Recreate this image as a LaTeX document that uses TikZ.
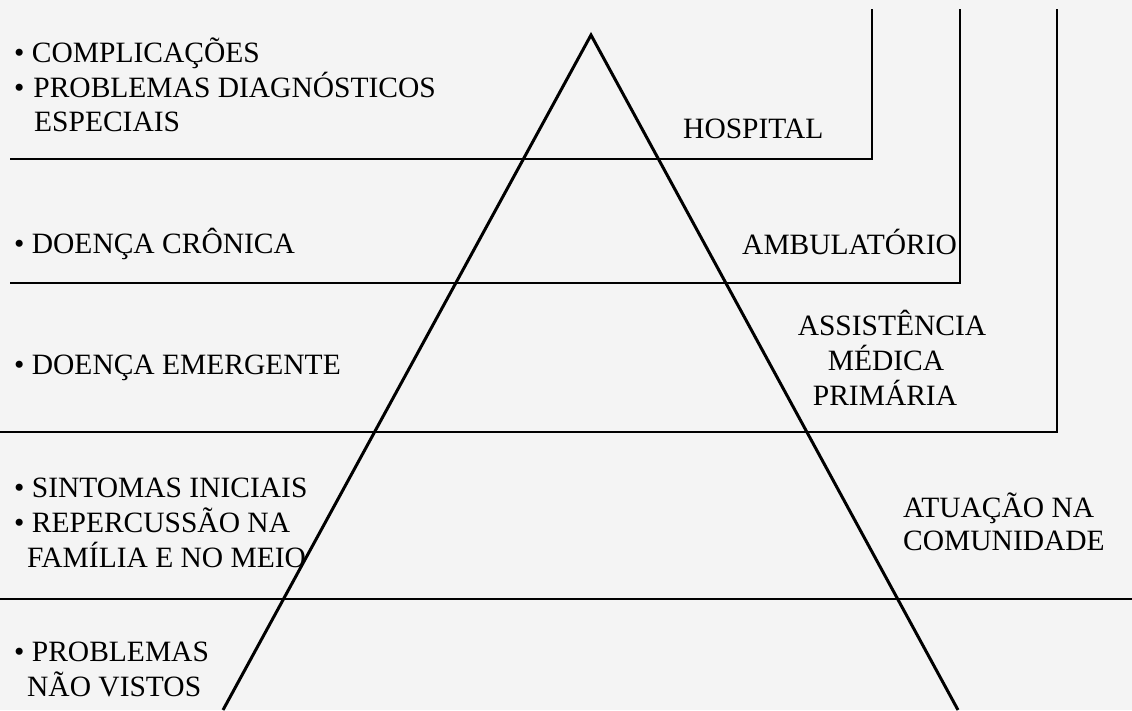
\documentclass[tikz,border=0pt]{standalone}
\usepackage{fontspec}
\setmainfont{Liberation Serif}
\usetikzlibrary{positioning}
\usepackage{xcolor}
\definecolor{paper}{HTML}{F4F4F4}

\begin{document}
\begin{tikzpicture}[x=1pt,y=-1pt,
  txt/.style={inner sep=0pt,anchor=base west,font=\fontsize{29.5}{35}\selectfont},
  txtc/.style={txt,anchor=base},
  levelline/.style={black,line width=1.3pt},
  pyramid/.style={black,line width=3pt,line join=miter}]

% Page and background.
\fill[paper] (0,0) rectangle (1132,710);
\useasboundingbox (0,0) rectangle (1132,710);

% Level lines with their right-hand brackets.
\draw[levelline] (10,159) -- (872,159) -- (872,9);
\draw[levelline] (10,283) -- (960,283) -- (960,9);
\draw[levelline] (0,432) -- (1057,432) -- (1057,9);
\draw[levelline] (0,599) -- (1132,599);

% The pyramid.
\coordinate (apex) at (591,35);
\coordinate (baseL) at (223,710);
\coordinate (baseR) at (958,710);
\begin{scope}
  \clip (0,0) rectangle (1132,710);
  \draw[pyramid] (baseL) -- (apex) -- (baseR);
\end{scope}

% Left column: what is seen at each level.
\node[txt] (compl) at (14,62) {• COMPLICAÇÕES};
\node[txt] (probd) at (14,97) {•\hspace{0.3em}PROBLEMAS DIAGNÓSTICOS};
\node[txt] (espec) at (34,131) {ESPECIAIS};

\node[txt] (cron) at (14,253) {• DOENÇA CRÔNICA};

\node[txt] (emerg) at (14,374) {• DOENÇA EMERGENTE};

\node[txt] (sint) at (14,497) {• SINTOMAS INICIAIS};
\node[txt] (reper) at (14,532) {• REPERCUSSÃO NA};
\node[txt] (famil) at (27,567) {FAMÍLIA E NO MEIO};

\node[txt] (probn) at (14,661) {• PROBLEMAS};
\node[txt] (naov) at (27,696) {NÃO VISTOS};

% Right column: where it is attended.
\node[txt] (hosp) at (683,138) {HOSPITAL};
\node[txt] (ambul) at (742,254) {AMBULATÓRIO};

\node[txtc] (assist) at (892,335) {ASSISTÊNCIA};
\node[txtc] (medica) at (886,370) {MÉDICA};
\node[txtc] (prima) at (885,405) {PRIMÁRIA};

\node[txt] (atuac) at (903,517) {ATUAÇÃO NA};
\node[txt] (comun) at (903,550) {COMUNIDADE};

\end{tikzpicture}
\end{document}
